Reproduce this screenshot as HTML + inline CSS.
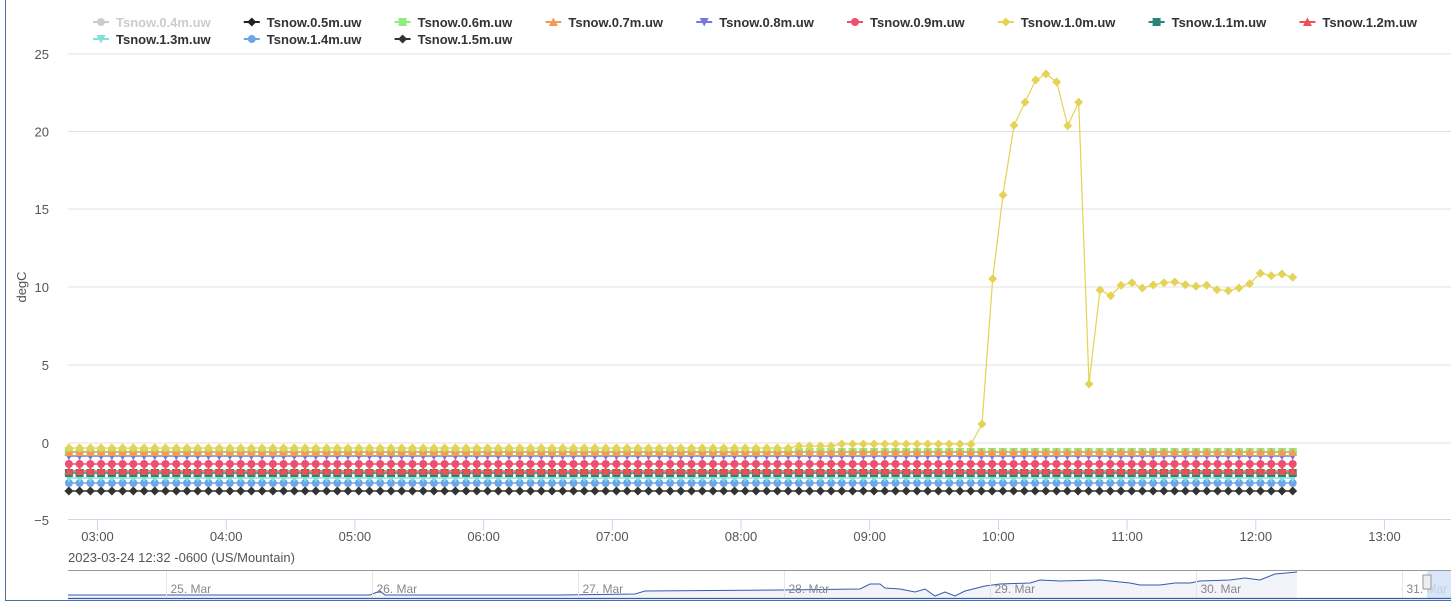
<!DOCTYPE html>
<html><head><meta charset="utf-8"><style>
body{margin:0;background:#fff;}
svg{display:block;font-family:"Liberation Sans",sans-serif;}
</style></head><body>
<svg id="s" width="1451" height="609" xmlns="http://www.w3.org/2000/svg"></svg>
<script>
const s=document.getElementById('s');let h='';
h+='<rect x="0" y="0" width="1451" height="609" fill="#fff"/>';
const yv=[[25,54],[20,131.5],[15,209],[10,287],[5,365],[0,443]];
for(const [v,y] of yv){h+=`<line x1="68" x2="1451" y1="${y}" y2="${y}" stroke="#e0e0e0"/>`;
h+=`<text x="49" y="${y+5}" text-anchor="end" font-size="13" fill="#555">${v}</text>`;}
h+=`<text x="49" y="525" text-anchor="end" font-size="13" fill="#555">−5</text>`;
h+=`<line x1="68" x2="1451" y1="519.5" y2="519.5" stroke="#ccd6eb"/>`;
h+=`<text transform="translate(26,287) rotate(-90)" text-anchor="middle" font-size="13" fill="#555">degC</text>`;
const hrs=['03:00','04:00','05:00','06:00','07:00','08:00','09:00','10:00','11:00','12:00','13:00'];
hrs.forEach((t,i)=>{const x=97.5+i*128.7;h+=`<line x1="${x}" x2="${x}" y1="520" y2="530" stroke="#ccd6eb"/><text x="${x}" y="541" text-anchor="middle" font-size="13" fill="#555">${t}</text>`;});
h+=`<text x="68" y="562" font-size="13" fill="#555">2023-03-24 12:32 -0600 (US/Mountain)</text>`;
function mk(t,x,y,c){x=+x;y=+y;
 const f=v=>v.toFixed(1);
 if(t=='c')return `<circle cx="${f(x)}" cy="${f(y)}" r="4" fill="${c}"/>`;
 if(t=='d')return `<path d="M${f(x)} ${f(y-4.5)}L${f(x+4.5)} ${f(y)}L${f(x)} ${f(y+4.5)}L${f(x-4.5)} ${f(y)}Z" fill="${c}"/>`;
 if(t=='s')return `<rect x="${f(x-4)}" y="${f(y-4)}" width="8" height="8" fill="${c}"/>`;
 if(t=='t')return `<path d="M${f(x)} ${f(y-4.5)}L${f(x+4.5)} ${f(y+4)}L${f(x-4.5)} ${f(y+4)}Z" fill="${c}"/>`;
 if(t=='v')return `<path d="M${f(x)} ${f(y+4.5)}L${f(x+4.5)} ${f(y-4)}L${f(x-4.5)} ${f(y-4)}Z" fill="${c}"/>`;}
const N=115,dx=10.735,x0=1292.7-114*dx;
const flat=[['d',491,'#333'],['c',483,'#6ba7e8'],['v',478,'#7fe0dc'],['s',473,'#2b8478'],['t',471,'#ee4f4f'],['c',464,'#ef4e6e'],['v',456,'#7777dd'],['s',452,'#90ed7d'],['t',452,'#f39a55']];
for(const [t,y,c] of flat){
 h+=`<line x1="${x0}" x2="1292.7" y1="${y}" y2="${y}" stroke="${c}" stroke-width="1.5"/>`;
 for(let i=0;i<N;i++)h+=mk(t,x0+i*dx,y,c);}
const tail=[[93,1153],[126,1092],[158,656],[189,405],[222,196],[255,127],[287,60],[318,42],[350,66],[383,197],[416,127],[447,972],[480,690],[512,707],[543,676],[576,668],[607,684],[640,675],[672,668],[704,666],[736,674],[768,679],[800,676],[831,689],[865,692],[897,684],[929,671],[961,640],[994,647],[1026,642],[1058,652]];
let pts=[];const nt=tail.length;
for(let i=0;i<N-nt;i++){const x=x0+i*dx;let y=448;if(x>790)y=446;if(x>840)y=444;pts.push([x,y]);}
for(const [a,b] of tail)pts.push([940+a/3,60+b/3]);
h+=`<polyline points="${pts.map(p=>p[0].toFixed(1)+','+p[1].toFixed(1)).join(' ')}" fill="none" stroke="#e4d354" stroke-width="1.2"/>`;
for(const p of pts)h+=mk('d',p[0],p[1],'#e4d354');
const leg=[['c','#ccc','Tsnow.0.4m.uw',1],['d','#222','Tsnow.0.5m.uw'],['s','#90ed7d','Tsnow.0.6m.uw'],['t','#f39a55','Tsnow.0.7m.uw'],['v','#7777dd','Tsnow.0.8m.uw'],['c','#ef4e6e','Tsnow.0.9m.uw'],['d','#e4d354','Tsnow.1.0m.uw'],['s','#2b8478','Tsnow.1.1m.uw'],['t','#ee4f4f','Tsnow.1.2m.uw'],['v','#7fe0dc','Tsnow.1.3m.uw'],['c','#6ba7e8','Tsnow.1.4m.uw'],['d','#333','Tsnow.1.5m.uw']];
leg.forEach((l,i)=>{const r=Math.floor(i/9),c=i%9;const x=101+c*150.8,y=22+r*17;
 h+=`<line x1="${x-8}" x2="${x+8}" y1="${y}" y2="${y}" stroke="${l[1]}" stroke-width="2"/>`+mk(l[0],x,y,l[1]);
 h+=`<text x="${x+15}" y="${y+5}" font-size="13" font-weight="bold" fill="${l[3]?'#ccc':'#333'}">${l[2]}</text>`;});
h+=`<line x1="68" x2="1451" y1="570.5" y2="570.5" stroke="#999"/>`;
const nav=[[68,595],[370,595],[380,591],[385,595],[560,595],[635,594],[645,591],[780,590],[860,589],[870,584],[880,584],[885,588],[900,589],[915,592],[925,589],[935,596],[945,592],[955,596],[965,591],[985,586],[1000,584],[1030,583],[1040,580],[1060,581],[1100,580],[1130,583],[1140,585],[1160,585],[1175,583],[1190,583],[1200,581],[1230,580],[1245,578],[1260,580],[1275,574],[1297,572]];
h+=`<path d="M68,598 L${nav.map(p=>p.join(',')).join(' L')} L1297,598Z" fill="#f2f4f9"/>`;
h+=`<polyline points="${nav.map(p=>p.join(',')).join(' ')}" fill="none" stroke="#335cad" stroke-width="1"/>`;
['25','26','27','28','29','30','31'].forEach((d,i)=>{const x=166.5+i*206;h+=`<line x1="${x}" x2="${x}" y1="571" y2="598" stroke="#e6e6e6"/><text x="${x+4}" y="593" font-size="12" fill="#888">${d}. Mar</text>`;});
h+=`<rect x="1427" y="571" width="24" height="27" fill="#cfe0f5" opacity="0.8"/>`;
h+=`<rect x="1423" y="575" width="8" height="14" fill="#eee" stroke="#999"/>`;
h+=`<line x1="68" x2="1451" y1="598.5" y2="598.5" stroke="#335cad" stroke-width="1.2"/>`;
h+=`<line x1="5.5" x2="5.5" y1="0" y2="601" stroke="#4a6fa5"/><line x1="5" x2="1451" y1="600.5" y2="600.5" stroke="#4a6fa5"/>`;
s.innerHTML=h;
</script>
</body></html>
